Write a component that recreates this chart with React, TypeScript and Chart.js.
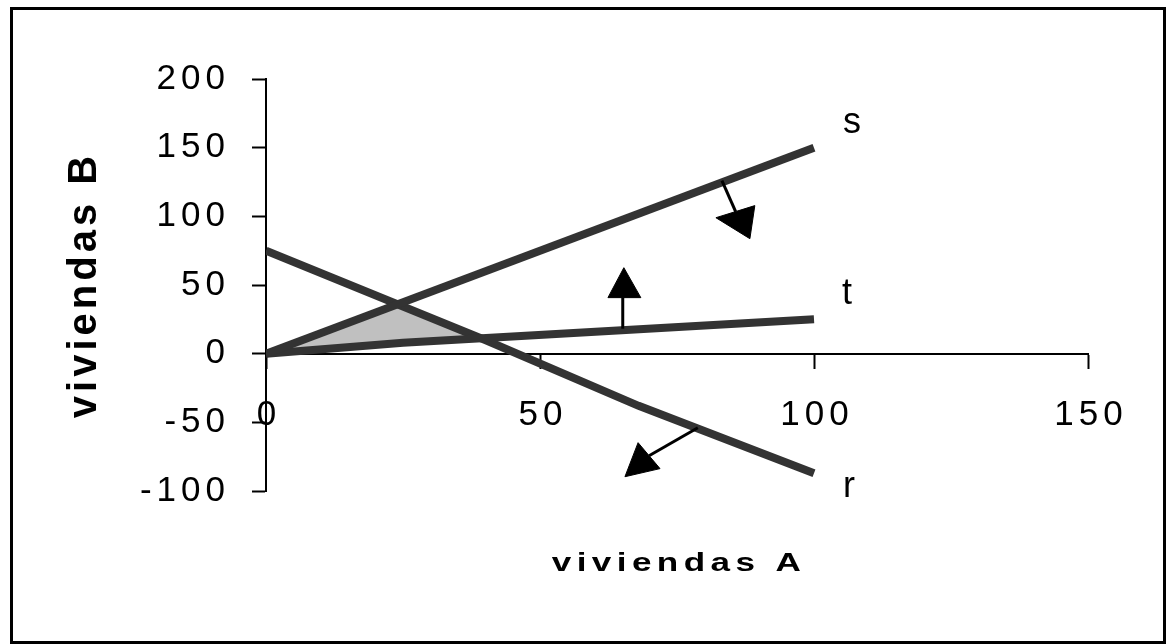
import React, { useEffect, useRef } from 'react';
import { Chart, registerables } from 'chart.js';

Chart.register(...registerables);

const FONT = "'Liberation Sans', Arial, sans-serif";

// axis ticks
const xTicks = [0, 50, 100, 150];
const yTicks = [-100, -50, 0, 50, 100, 150, 200];
const xTitle = 'viviendas A';
const yTitle = 'viviendas B';

// restriction lines
const sX = [0, 100];
const sY = [0, 150];
const tX = [0, 25, 100];
const tY = [0, 8, 25];
const rX = [0, 40, 68, 100];
const rY = [75, 10, -38, -87];

// feasible region (shaded)
const regionX = [0, 24.5, 40, 0];
const regionY = [0, 36, 10, 0];

// arrows: shafts and heads
const shaftSX = [83.2, 85.7];
const shaftSY = [126, 103.4];
const headSX = [82.1, 89.2, 88.3, 82.1];
const headSY = [99, 107.8, 83.7, 99];

const shaftTX = [65.1, 65.1];
const shaftTY = [18.2, 41];
const headTX = [62.4, 68.4, 65.3, 62.4];
const headTY = [40.8, 40.8, 62.6, 40.8];

const shaftRX = [78.8, 69.9];
const shaftRY = [-53.9, -74.3];
const headRX = [67.9, 71.9, 65.5, 67.9];
const headRY = [-64.8, -83.7, -89.6, -64.8];

// line name labels
const lineNames = ['s', 't', 'r'];
const labelX = [105.3, 105.1, 105.3];
const labelY = [160.9, 36.4, -104.1];

const pts = (xs: number[], ys: number[]) => xs.map((x, i) => ({ x, y: ys[i] }));

const LINE = '#333333';

const textPlugin = {
  id: 'textPlugin',
  beforeDraw(chart: any) {
    chart.ctx.letterSpacing = '5px';
  },
  afterDraw(chart: any) {
    const { ctx, scales } = chart;
    const x = scales.x;
    const y = scales.y;
    ctx.save();
    ctx.fillStyle = '#000';
    ctx.letterSpacing = '0px';
    ctx.font = `36px ${FONT}`;
    ctx.textAlign = 'left';
    ctx.textBaseline = 'alphabetic';
    lineNames.forEach((n, i) => {
      ctx.fillText(n, x.getPixelForValue(labelX[i]), y.getPixelForValue(labelY[i]));
    });
    // x title (horizontally widened like the reference)
    ctx.save();
    ctx.font = `bold 26px ${FONT}`;
    ctx.letterSpacing = '4px';
    ctx.textAlign = 'center';
    ctx.translate((x.left + x.right) / 2 + 2, y.bottom + 80);
    ctx.scale(1.35, 1);
    ctx.fillText(xTitle, 0, 0);
    ctx.restore();
    // y title
    ctx.font = `bold 40px ${FONT}`;
    ctx.letterSpacing = '4px';
    ctx.textAlign = 'center';
    ctx.translate(96, (y.top + y.bottom) / 2);
    ctx.rotate(-Math.PI / 2);
    ctx.fillText(yTitle, 0, 0);
    ctx.restore();
  },
};

export default function App() {
  const ref = useRef<HTMLCanvasElement>(null);

  useEffect(() => {
    const lineDs = (xs: number[], ys: number[]) => ({
      data: pts(xs, ys),
      showLine: true,
      borderColor: LINE,
      backgroundColor: LINE,
      borderWidth: 8,
      borderCapStyle: 'butt',
      pointRadius: 0,
      fill: false,
      tension: 0,
    });
    const shaftDs = (xs: number[], ys: number[]) => ({
      data: pts(xs, ys),
      showLine: true,
      borderColor: '#000',
      borderWidth: 3,
      pointRadius: 0,
      fill: false,
    });
    const headDs = (xs: number[], ys: number[]) => ({
      data: pts(xs, ys),
      showLine: true,
      borderColor: '#000',
      backgroundColor: '#000',
      borderWidth: 1,
      pointRadius: 0,
      fill: 'shape',
    });

    const chart = new Chart(ref.current as HTMLCanvasElement, {
      type: 'scatter',
      data: {
        datasets: [
          headDs(headSX, headSY),
          shaftDs(shaftSX, shaftSY),
          headDs(headTX, headTY),
          shaftDs(shaftTX, shaftTY),
          headDs(headRX, headRY),
          shaftDs(shaftRX, shaftRY),
          lineDs(sX, sY),
          lineDs(tX, tY),
          lineDs(rX, rY),
          {
            data: pts(regionX, regionY),
            showLine: true,
            borderWidth: 0,
            borderColor: 'rgba(0,0,0,0)',
            backgroundColor: '#c0c0c0',
            pointRadius: 0,
            fill: 'shape',
          },
        ] as any,
      },
      options: {
        responsive: false,
        animation: false,
        devicePixelRatio: 1,
        events: [],
        layout: { padding: { left: 0, top: 79, right: 82, bottom: 153 } },
        plugins: { legend: { display: false }, tooltip: { enabled: false } },
        scales: {
          x: {
            type: 'linear',
            position: { y: 0 } as any,
            min: 0,
            max: 150,
            afterBuildTicks: (s: any) => {
              s.ticks = xTicks.map((v) => ({ value: v }));
            },
            grid: { drawOnChartArea: false, drawTicks: true, tickLength: 14, tickWidth: 2, tickColor: '#000' },
            border: { display: true, color: '#000', width: 2 },
            ticks: {
              color: '#000',
              font: { family: FONT, size: 35 },
              padding: 27,
              labelOffset: 3,
              maxRotation: 0,
              autoSkip: false,
              callback: (v: any) => String(v),
            },
          },
          y: {
            type: 'linear',
            position: 'left',
            min: -100,
            max: 200,
            afterBuildTicks: (s: any) => {
              s.ticks = yTicks.map((v) => ({ value: v }));
            },
            afterFit: (s: any) => {
              s.width = 266;
            },
            grid: { drawOnChartArea: false, drawTicks: true, tickLength: 14, tickWidth: 2, tickColor: '#000' },
            border: { display: true, color: '#000', width: 2 },
            ticks: {
              color: '#000',
              font: { family: FONT, size: 35 },
              padding: 22,
              autoSkip: false,
              callback: (v: any) => String(v),
            },
          },
        },
      } as any,
      plugins: [textPlugin],
    });
    return () => chart.destroy();
  }, []);

  return (
    <div style={{ position: 'fixed', left: 0, top: 0, width: 1170, height: 644, background: '#fff' }}>
      <canvas
        ref={ref}
        width={1170}
        height={644}
        style={{ position: 'absolute', left: 0, top: 0, width: 1170, height: 644, display: 'block' }}
      />
      <div
        style={{
          position: 'absolute',
          left: 10,
          top: 7,
          width: 1156,
          height: 637,
          border: '3px solid #000',
          boxSizing: 'border-box',
          pointerEvents: 'none',
        }}
      />
    </div>
  );
}
